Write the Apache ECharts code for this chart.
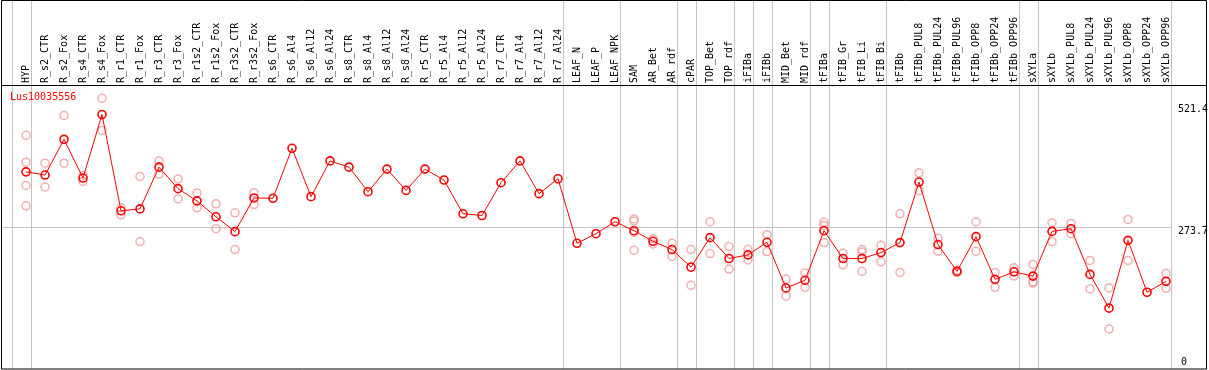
<!DOCTYPE html>
<html>
<head>
<meta charset="utf-8">
<script src="https://cdn.jsdelivr.net/npm/echarts@6/dist/echarts.min.js"></script>
<style>
html,body{margin:0;padding:0;background:#fff;}
#chart{width:1209px;height:370px;}
</style>
</head>
<body>
<div id="chart"></div>
<script>
const geneName = 'Lus10035556';

const categories = ['HYP','R_s2_CTR','R_s2_Fox','R_s4_CTR','R_s4_Fox','R_r1_CTR','R_r1_Fox','R_r3_CTR','R_r3_Fox',
  'R_r1s2_CTR','R_r1s2_Fox','R_r3s2_CTR','R_r3s2_Fox','R_s6_CTR','R_s6_Al4','R_s6_Al12','R_s6_Al24',
  'R_s8_CTR','R_s8_Al4','R_s8_Al12','R_s8_Al24','R_r5_CTR','R_r5_Al4','R_r5_Al12','R_r5_Al24',
  'R_r7_CTR','R_r7_Al4','R_r7_Al12','R_r7_Al24','LEAF_N','LEAF_P','LEAF_NPK','SAM','AR_Bet','AR_rdf',
  'cPAR','TOP_Bet','TOP_rdf','iFIBa','iFIBb','MID_Bet','MID_rdf','tFIBa','tFIB_Gr','tFIB_Li','tFIB_Bi',
  'tFIBb','tFIBb_PUL8','tFIBb_PUL24','tFIBb_PUL96','tFIBb_OPP8','tFIBb_OPP24','tFIBb_OPP96',
  'sXYLa','sXYLb','sXYLb_PUL8','sXYLb_PUL24','sXYLb_PUL96','sXYLb_OPP8','sXYLb_OPP24','sXYLb_OPP96'];

const means = [380.3, 374.1, 442.6, 368.4, 490.3, 305.5, 309.2, 389.3, 348.0,
  324.5, 294.0, 265.5, 330.2, 329.5, 425.5, 332.7, 401.3,
  389.3, 342.2, 385.5, 344.7, 385.5, 364.5, 299.8, 296.5,
  359.4, 401.3, 338.4, 367.0, 243.1, 261.6, 284.5, 267.3, 247.0, 231.1,
  197.4, 254.0, 214.0, 220.9, 245.1, 157.4, 172.1, 267.3, 214.0, 214.0, 225.4,
  244.5, 360.7, 240.7, 189.2, 255.9, 174.0, 188.4,
  180.2, 266.0, 271.2, 183.5, 118.7, 248.8, 149.2, 170.1];

const replicates = [
  [450.3, 398.8, 354.2, 315.0], [396.9, 351.2], [488.4, 396.9], [373.3, 361.9], [521.4, 459.8],
  [311.2, 297.8], [371.4, 246.4], [401.3, 376.0], [366.4, 328.3],
  [339.7, 311.2], [318.8, 271.2], [301.6, 231.1], [340.3, 317.5],
  [], [], [], [], [], [], [], [], [], [], [], [], [], [], [], [],
  [], [], [],
  [289.8, 286.0, 264.1, 229.8], [252.1, 241.8], [243.1, 217.8],
  [231.1, 162.5], [284.5, 223.5], [236.9, 193.6], [231.7, 211.3], [259.7, 227.3],
  [174.5, 141.6], [186.0, 158.7], [283.7, 277.4, 244.5], [224.1, 201.8], [231.1, 226.6, 189.2], [239.3, 207.5],
  [299.7, 187.3], [378.4, 344.1], [252.7, 227.9], [191.7, 186.9], [284.5, 227.9], [187.3, 158.7], [196.1, 180.3],
  [202.6, 169.4, 166.9], [282.6, 246.4], [281.3, 261.6], [210.2, 155.5], [157.4, 78.7], [288.9, 210.2], [], [185.4, 156.8]
];

const yTicks = [0, 273.7, 521.4];
const groupEnds = [-1, 0, 28, 31, 34, 35, 37, 38, 39, 41, 42, 45, 52, 53, 60];

const chart = echarts.init(document.getElementById('chart'), null, {renderer: 'canvas'});

const repData = [];
replicates.forEach((list, i) => list.forEach(v => repData.push([i, v])));

const FONT = 'DejaVu Sans Mono';

const option = {
  animation: false,
  grid: {left: 7, right: 24, top: 86, bottom: -2, containLabel: false},
  xAxis: {
    type: 'value', position: 'top', min: -1, max: 61, interval: 1,
    axisLine: {show: false}, axisTick: {show: false}, splitLine: {show: false},
    axisLabel: {
      rotate: 90, margin: 3, fontFamily: FONT, fontSize: 10, color: '#000',
      formatter: v => categories[Math.round(v)] || ''
    }
  },
  yAxis: {type: 'value', min: 0, max: 545, show: false},
  series: [
    {
      type: 'scatter', data: repData, symbol: 'circle', symbolSize: 8, z: 2,
      itemStyle: {color: 'rgba(0,0,0,0)', borderColor: '#f09a9a', borderWidth: 1.5},
      silent: true
    },
    {
      type: 'line', data: means.map((v, i) => [i, v]), symbol: 'circle', symbolSize: 8, z: 3,
      lineStyle: {color: '#ff0000', width: 1},
      itemStyle: {color: 'rgba(0,0,0,0)', borderColor: '#ff0000', borderWidth: 1.6},
      silent: true
    }
  ]
};
chart.setOption(option);

function px(x, y) { return chart.convertToPixel({gridIndex: 0}, [x, y]); }

const graphics = [];
const BOTTOM = 369;
// vertical gray group separators
groupEnds.forEach(g => {
  const x = Math.round(px(g + 0.247, 0)[0]) + 0.5;
  graphics.push({type: 'line', shape: {x1: x, y1: 0, x2: x, y2: BOTTOM}, style: {stroke: '#c4c4c4', lineWidth: 1}, z: 1});
});
// horizontal gray line at middle tick
const midY = Math.round(px(0, yTicks[1])[1]) + 0.5;
const lastX = Math.round(px(groupEnds[groupEnds.length - 1] + 0.247, 0)[0]) + 0.5;
graphics.push({type: 'line', shape: {x1: 1, y1: midY, x2: lastX, y2: midY}, style: {stroke: '#c4c4c4', lineWidth: 1}, z: 1});
// frame
graphics.push({type: 'rect', shape: {x: 1.5, y: 0.5, width: 1205, height: BOTTOM - 0.5}, style: {fill: null, stroke: '#000', lineWidth: 1}, z: 10});
graphics.push({type: 'line', shape: {x1: 1, y1: 85.5, x2: 1207, y2: 85.5}, style: {stroke: '#000', lineWidth: 1}, z: 10});
// right tick labels
yTicks.forEach((t, k) => {
  const p = px(0, t)[1];
  let cy;
  if (k === 0) cy = BOTTOM - 7;
  else if (k === yTicks.length - 1) cy = p + 11;
  else cy = p + 4;
  graphics.push({type: 'text', x: k === 0 ? 1181 : 1178, y: cy,
    style: {text: String(t), font: '10px ' + FONT, fill: '#000', verticalAlign: 'middle', align: 'left'}, z: 10});
});
// gene name
graphics.push({type: 'text', x: 10, y: 97,
  style: {text: geneName, font: '10px ' + FONT, fill: '#ff0000', verticalAlign: 'middle', align: 'left'}, z: 10});

chart.setOption({graphic: graphics});
</script>
</body>
</html>
